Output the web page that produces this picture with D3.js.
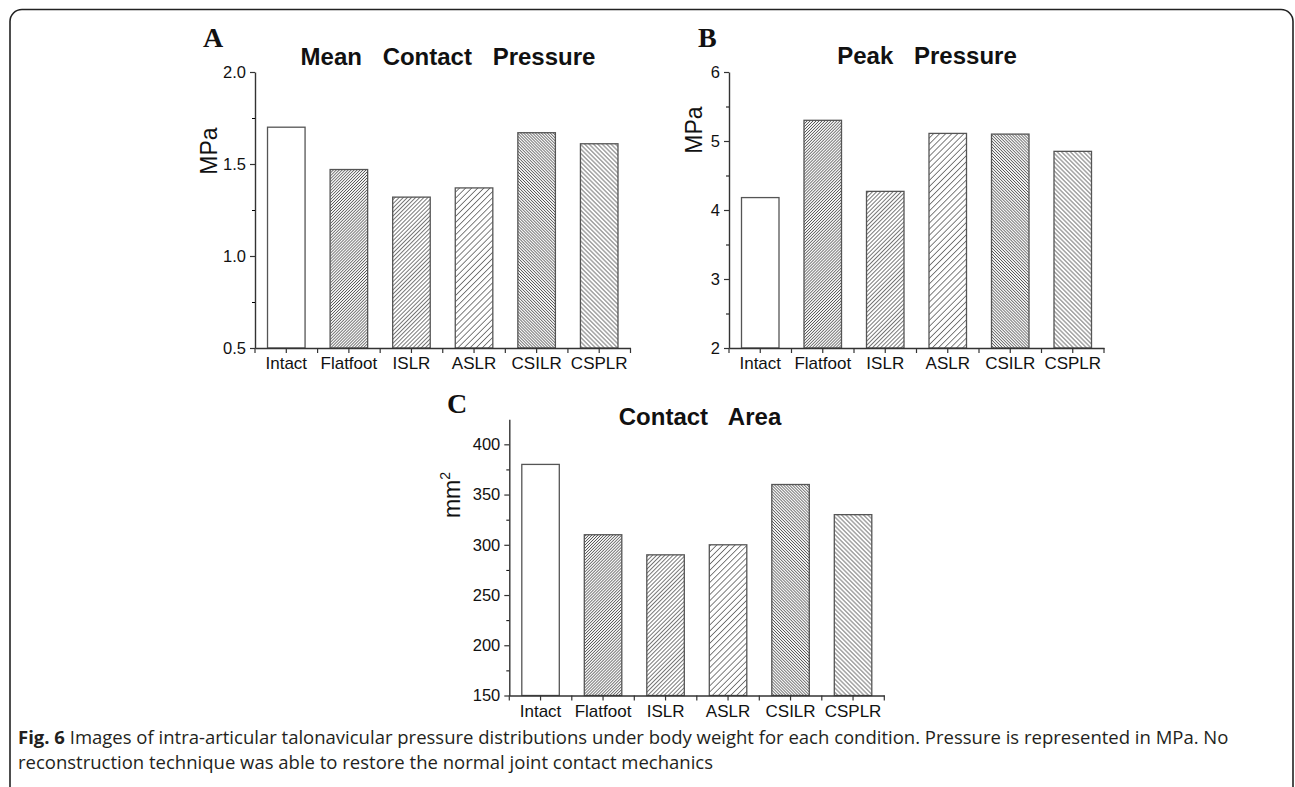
<!DOCTYPE html>
<html>
<head>
<meta charset="utf-8">
<script src="https://cdn.jsdelivr.net/npm/d3@7"></script>
<style>
  html, body { margin: 0; padding: 0; background: #fff; }
  svg { display: block; }
  text { font-family: "Liberation Sans", Arial, sans-serif; }
  text.caption { font-family: "Open Sans", "Noto Sans", sans-serif; font-size: 18.5px; fill: #231f20; }
</style>
</head>
<body>
<svg id="figure" width="1295" height="787"></svg>
<script>
// data
const categories = ['Intact', 'Flatfoot', 'ISLR', 'ASLR', 'CSILR', 'CSPLR'];
const meanContactPressure = [1.70, 1.47, 1.32, 1.37, 1.67, 1.61];
const peakPressure = [4.18, 5.30, 4.27, 5.11, 5.10, 4.85];
const contactArea = [380, 310, 290, 300, 360, 330];

const meanMajorTicks = [0.5, 1.0, 1.5, 2.0];
const meanMinorTicks = [0.75, 1.25, 1.75];
const peakMajorTicks = [2, 3, 4, 5, 6];
const peakMinorTicks = [2.5, 3.5, 4.5, 5.5];
const areaMajorTicks = [150, 200, 250, 300, 350, 400];
const areaMinorTicks = [175, 225, 275, 325, 375];

const captionBold = 'Fig. 6';
const captionLines = [
  ' Images of intra-articular talonavicular pressure distributions under body weight for each condition. Pressure is represented in MPa. No',
  'reconstruction technique was able to restore the normal joint contact mechanics',
];

// hatch per category: direction and spacing
const hatches = [
  null,
  { angle: 45, gap: 2.1 },
  { angle: 45, gap: 2.9 },
  { angle: 45, gap: 4.3 },
  { angle: -45, gap: 2.1 },
  { angle: -45, gap: 3.1 },
];

const panels = [
  {
    letter: 'A', title: 'Mean Contact Pressure', values: meanContactPressure,
    domain: [0.5, 2.0], major: meanMajorTicks, minor: meanMinorTicks, format: '.1f',
    x0: 255, x1: 630.5, yTop: 72, yBottom: 348,
    letterPos: [203, 47], titlePos: [448, 65], unitPos: [217, 151],
  },
  {
    letter: 'B', title: 'Peak Pressure', values: peakPressure,
    domain: [2, 6], major: peakMajorTicks, minor: peakMinorTicks, format: 'd',
    x0: 729, x1: 1104, yTop: 72, yBottom: 348,
    letterPos: [698, 47], titlePos: [927, 64], unitPos: [702, 130],
  },
  {
    letter: 'C', title: 'Contact Area', values: contactArea,
    domain: [150, 425], major: areaMajorTicks, minor: areaMinorTicks, format: 'd',
    x0: 509.3, x1: 884.3, yTop: 419.2, yBottom: 695.5,
    letterPos: [447, 413], titlePos: [700, 425], unitPos: [460, 495], squared: true,
  },
];

const axisColor = '#333';
const barStroke = '#555';

const svg = d3.select('#figure');

// frame around the figure
svg.append('rect')
  .attr('x', 10)
  .attr('y', 9.5)
  .attr('width', 1283)
  .attr('height', 820)
  .attr('rx', 12)
  .attr('fill', 'none')
  .attr('stroke', '#222')
  .attr('stroke-width', 1.6);

const defs = svg.append('defs');
hatches.forEach((h, i) => {
  if (!h) return;
  const p = defs.append('pattern')
    .attr('id', `hatch${i}`)
    .attr('patternUnits', 'userSpaceOnUse')
    .attr('width', h.gap)
    .attr('height', 10)
    .attr('patternTransform', `rotate(${h.angle})`);
  p.append('rect').attr('width', h.gap).attr('height', 10).attr('fill', '#fff');
  p.append('line')
    .attr('x1', h.gap / 2).attr('x2', h.gap / 2)
    .attr('y1', 0).attr('y2', 10)
    .attr('stroke', '#555')
    .attr('stroke-width', 0.8);
});

function drawPanel(cfg) {
  const g = svg.append('g');

  const x = d3.scaleBand()
    .domain(categories)
    .range([cfg.x0, cfg.x1])
    .paddingInner(0.4)
    .paddingOuter(0.2);

  const y = d3.scaleLinear()
    .domain(cfg.domain)
    .range([cfg.yBottom, cfg.yTop]);

  // bars
  g.selectAll('rect.bar')
    .data(cfg.values)
    .enter()
    .append('rect')
    .attr('class', 'bar')
    .attr('x', (d, i) => x(categories[i]))
    .attr('width', x.bandwidth())
    .attr('y', (d) => y(d))
    .attr('height', (d) => y(cfg.domain[0]) - y(d))
    .attr('fill', (d, i) => (hatches[i] ? `url(#hatch${i})` : '#fff'))
    .attr('stroke', barStroke)
    .attr('stroke-width', 1.3);

  // y axis, major then minor ticks
  const yAxis = g.append('g')
    .attr('transform', `translate(${cfg.x0},0)`)
    .call(d3.axisLeft(y)
      .tickValues(cfg.major)
      .tickSize(5)
      .tickSizeOuter(0)
      .tickPadding(4)
      .tickFormat(d3.format(cfg.format)));

  g.append('g')
    .attr('transform', `translate(${cfg.x0},0)`)
    .call(d3.axisLeft(y).tickValues(cfg.minor).tickSize(3).tickSizeOuter(0).tickFormat(''))
    .select('.domain').remove();

  // x axis: ticks at centres plus band boundaries
  const xAxis = g.append('g')
    .attr('transform', `translate(0,${cfg.yBottom})`)
    .call(d3.axisBottom(x).tickSize(5).tickSizeOuter(0).tickPadding(4));

  g.append('g')
    .selectAll('line')
    .data(d3.range(categories.length + 1))
    .enter()
    .append('line')
    .attr('x1', (i) => cfg.x0 + i * x.step())
    .attr('x2', (i) => cfg.x0 + i * x.step())
    .attr('y1', cfg.yBottom)
    .attr('y2', cfg.yBottom + 5)
    .attr('stroke', axisColor)
    .attr('stroke-width', 1.2);

  [yAxis, xAxis].forEach((ax) => {
    ax.selectAll('.domain').attr('stroke', axisColor).attr('stroke-width', 1.4);
    ax.selectAll('.tick line').attr('stroke', axisColor).attr('stroke-width', 1.2);
    ax.selectAll('.tick text')
      .attr('fill', '#111')
      .style('font-size', '16.5px')
      .style('font-family', '"Liberation Sans", Arial, sans-serif');
  });
  xAxis.selectAll('.tick text').style('font-size', '17px');

  // unit label
  const unit = g.append('text')
    .attr('transform', `translate(${cfg.unitPos[0]},${cfg.unitPos[1]}) rotate(-90)`)
    .attr('text-anchor', 'middle')
    .attr('fill', '#111')
    .style('font-size', '23px');
  if (cfg.squared) {
    unit.append('tspan').text('mm');
    unit.append('tspan')
      .attr('dy', -10)
      .style('font-size', '14px')
      .text('2');
  } else {
    unit.text('MPa');
  }

  // title and panel letter
  g.append('text')
    .attr('x', cfg.titlePos[0])
    .attr('y', cfg.titlePos[1])
    .attr('text-anchor', 'middle')
    .attr('fill', '#111')
    .style('font-size', '24px')
    .style('font-weight', 'bold')
    .style('word-spacing', '14px')
    .text(cfg.title);

  g.append('text')
    .attr('x', cfg.letterPos[0])
    .attr('y', cfg.letterPos[1])
    .attr('fill', '#111')
    .style('font-family', '"Liberation Serif", "Times New Roman", serif')
    .style('font-weight', 'bold')
    .style('font-size', '28px')
    .text(cfg.letter);
}

panels.forEach(drawPanel);

// caption
const line1 = svg.append('text')
  .attr('class', 'caption')
  .attr('x', 18)
  .attr('y', 744);
line1.append('tspan').style('font-weight', 'bold').text(captionBold);
line1.append('tspan').style('white-space', 'pre').text(captionLines[0]);

svg.append('text')
  .attr('class', 'caption')
  .attr('x', 18)
  .attr('y', 769)
  .text(captionLines[1]);
</script>
</body>
</html>
